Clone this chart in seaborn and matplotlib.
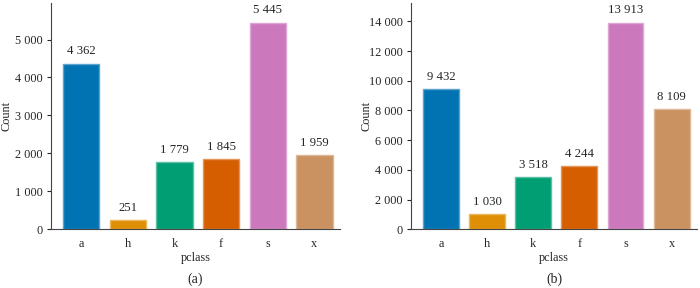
import matplotlib
matplotlib.use("Agg")
import matplotlib.pyplot as plt
import matplotlib.colors as mcolors
import seaborn as sns
import pandas as pd
import numpy as np

# data
pclass = ['a', 'h', 'k', 'f', 's', 'x']
counts_a = [4362, 251, 1779, 1845, 5445, 1959]
counts_b = [9432, 1030, 3518, 4244, 13913, 8109]
panel_labels = ['(a)', '(b)']
yticks_a = [0, 1000, 2000, 3000, 4000, 5000]
yticks_b = [0, 2000, 4000, 6000, 8000, 10000, 12000, 14000]

sns.set_theme(style="ticks")
plt.rcParams['font.family'] = ['Liberation Serif', 'DejaVu Serif']

FS = 8.8
palette = sns.color_palette("colorblind", n_colors=len(pclass))

def fmt(v):
    return f"{v:,}".replace(",", " ")

fig = plt.figure(figsize=(7, 2.88), dpi=100)
ax1 = fig.add_axes([51 / 700, 58.7 / 288, 289 / 700, 226.3 / 288])
ax2 = fig.add_axes([411 / 700, 58.7 / 288, 286 / 700, 226.3 / 288])

for ax, counts, ticks, lab in [(ax1, counts_a, yticks_a, panel_labels[0]),
                               (ax2, counts_b, yticks_b, panel_labels[1])]:
    df = pd.DataFrame({'pclass': pclass, 'Count': counts})
    sns.barplot(data=df, x='pclass', y='Count', hue='pclass', palette=palette,
                order=pclass, legend=False, width=0.78, saturation=1,
                linewidth=1.0, ax=ax)
    # lighter outline around each bar, as in the reference
    for p in ax.patches:
        fc = np.array(mcolors.to_rgb(p.get_facecolor()))
        p.set_edgecolor(fc + (1 - fc) * 0.35)
    for c in ax.containers:
        ax.bar_label(c, labels=[fmt(int(v)) for v in c.datavalues],
                     padding=4.5, fontsize=FS + 0.4)
    ax.set_ylim(0, max(counts) * 1.095)
    ax.set_xlim(-0.65, 5.55)
    ax.set_yticks(ticks)
    ax.set_yticklabels([fmt(t) for t in ticks], fontsize=FS)
    ax.tick_params(axis='y', direction='out', length=3, width=0.8, pad=3)
    ax.tick_params(axis='x', length=0, pad=6, labelsize=FS)
    ax.set_xlabel('pclass', fontsize=FS, va='center')
    ax.xaxis.set_label_coords(0.5, -29 / 226.3)
    ax.set_ylabel('Count', fontsize=FS, va='center')
    ax.yaxis.set_label_coords(-45 / 289, 0.5)
    for s in ['left', 'bottom']:
        ax.spines[s].set_linewidth(0.8)
        ax.spines[s].set_color('#444444')
    sns.despine(ax=ax)
    bb = ax.get_position()
    fig.text(bb.x0 + bb.width / 2, 9 / 288, lab, ha='center', va='center', fontsize=FS + 1.2)

fig.savefig('out.png', dpi=100)
